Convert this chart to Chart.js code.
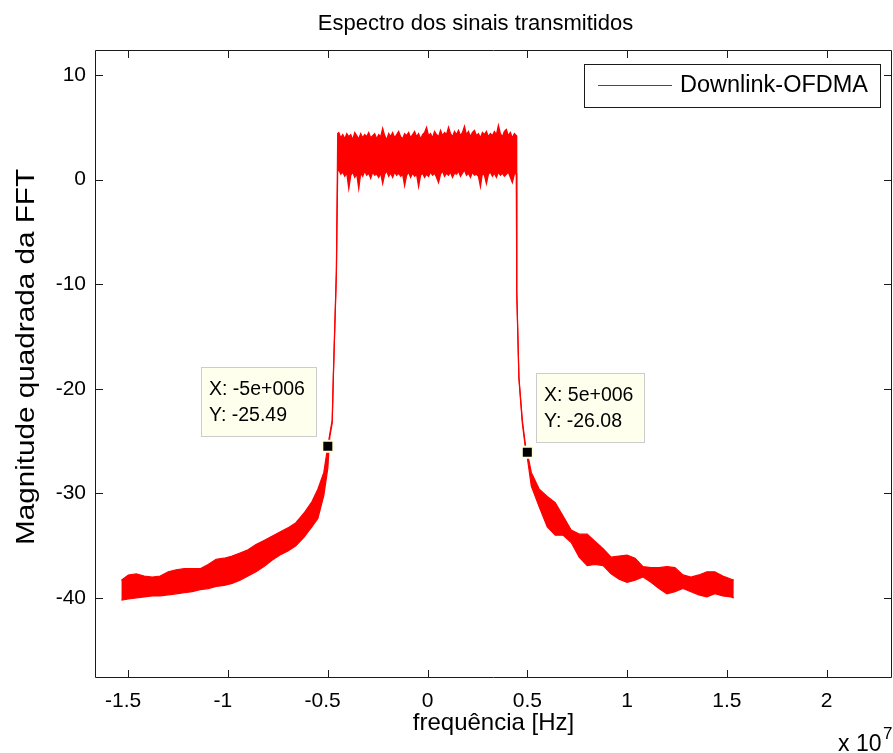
<!DOCTYPE html>
<html>
<head>
<meta charset="utf-8">
<title>Espectro dos sinais transmitidos</title>
<script src="https://cdn.jsdelivr.net/npm/chart.js@4.4.1/dist/chart.umd.min.js"></script>
<style>
  html, body { margin: 0; padding: 0; background: #ffffff; }
  canvas { display: block; }
</style>
</head>
<body>
<canvas id="spectrum" width="893" height="753"></canvas>
<script>
// Frequency grid (Hz) shared by the upper and lower edge of the spectrum trace
const freqHz = [
  -1.535e7, -1.50e7, -1.46e7, -1.42e7, -1.38e7, -1.34e7, -1.30e7, -1.26e7, -1.22e7, -1.18e7,
  -1.14e7, -1.10e7, -1.06e7, -1.02e7, -0.98e7, -0.94e7, -0.90e7, -0.86e7, -0.82e7, -0.78e7,
  -0.74e7, -0.70e7, -0.66e7, -0.62e7, -0.58e7, -0.55e7, -0.52e7, -0.50e7,
  -0.49e7, -0.478e7, -0.472e7, -0.457e7, -0.4505e7,
  -0.445e7, -0.435e7, -0.425e7, -0.415e7, -0.405e7, -0.395e7, -0.385e7, -0.375e7, -0.365e7, -0.355e7,
  -0.345e7, -0.335e7, -0.325e7, -0.315e7, -0.305e7, -0.295e7, -0.285e7, -0.275e7, -0.265e7, -0.255e7,
  -0.245e7, -0.235e7, -0.225e7, -0.215e7, -0.205e7, -0.195e7, -0.185e7, -0.175e7, -0.165e7, -0.155e7,
  -0.145e7, -0.135e7, -0.125e7, -0.115e7, -0.105e7, -0.095e7, -0.085e7, -0.075e7, -0.065e7, -0.055e7,
  -0.045e7, -0.035e7, -0.025e7, -0.015e7, -0.005e7,
  0.005e7, 0.015e7, 0.025e7, 0.035e7, 0.045e7, 0.055e7, 0.065e7, 0.075e7, 0.085e7, 0.095e7,
  0.105e7, 0.115e7, 0.125e7, 0.135e7, 0.145e7, 0.155e7, 0.165e7, 0.175e7, 0.185e7, 0.195e7,
  0.205e7, 0.215e7, 0.225e7, 0.235e7, 0.245e7, 0.255e7, 0.265e7, 0.275e7, 0.285e7, 0.295e7,
  0.305e7, 0.315e7, 0.325e7, 0.335e7, 0.345e7, 0.355e7, 0.365e7, 0.375e7, 0.385e7, 0.395e7,
  0.405e7, 0.415e7, 0.425e7, 0.435e7, 0.445e7,
  0.4465e7, 0.4475e7, 0.458e7, 0.475e7, 0.492e7,
  0.50e7, 0.52e7, 0.56e7, 0.60e7, 0.64e7, 0.68e7, 0.72e7, 0.76e7, 0.80e7, 0.84e7,
  0.88e7, 0.92e7, 0.96e7, 1.00e7, 1.04e7, 1.08e7, 1.12e7, 1.16e7, 1.20e7, 1.24e7,
  1.28e7, 1.32e7, 1.36e7, 1.40e7, 1.44e7, 1.48e7, 1.52e7, 1.535e7
];

// Upper edge of the |FFT|^2 trace (dB)
const upperDb = [
  -38.3, -37.8, -37.7, -37.9, -38.0, -37.9, -37.5, -37.3, -37.2, -37.2,
  -37.2, -36.8, -36.3, -36.2, -36.0, -35.7, -35.4, -34.9, -34.5, -34.1,
  -33.7, -33.3, -32.8, -31.9, -30.8, -29.6, -28.0, -25.49,
  -24.3, -23.0, -18.5, -8.7, 4.4,
  4.5, 4.0, 4.3, 3.9, 4.4, 4.1, 4.3, 3.8, 4.5, 4.2,
  3.9, 4.4, 4.0, 4.3, 4.1, 4.5, 4.0, 4.2, 4.4, 3.9,
  4.3, 4.1, 4.9, 4.2, 3.8, 4.4, 4.1, 4.5, 4.0, 4.3,
  4.6, 4.1, 3.9, 4.4, 4.2, 4.5, 4.0, 4.3, 4.6, 4.1,
  4.4, 3.9, 4.3, 4.5, 5.0,
  4.2, 4.4, 4.0, 4.6, 4.3, 4.1, 4.7, 4.2, 4.5, 4.3,
  5.0, 4.4, 4.1, 4.6, 4.3, 4.7, 4.2, 4.5, 5.1, 4.3,
  4.6, 4.1, 4.5, 4.7, 4.2, 4.4, 4.0, 4.5, 4.3, 4.6,
  4.1, 4.4, 4.2, 4.6, 4.3, 5.2, 4.4, 4.1, 4.6, 4.8,
  4.2, 4.5, 4.0, 4.4, 4.2,
  4.2, -10.6, -18.9, -23.0, -25.6,
  -26.08, -28.0, -29.6, -30.3, -30.9, -32.2, -33.5, -33.9, -33.9, -34.6,
  -35.3, -36.1, -36.0, -35.9, -36.2, -37.0, -37.1, -37.1, -37.0, -37.1,
  -37.8, -38.0, -37.8, -37.5, -37.5, -37.9, -38.2, -38.3
];

// Lower edge of the |FFT|^2 trace (dB)
const lowerDb = [
  -40.2, -40.1, -40.0, -39.9, -39.8, -39.8, -39.7, -39.6, -39.5, -39.4,
  -39.2, -39.1, -38.9, -38.8, -38.6, -38.3, -37.9, -37.5, -37.0, -36.4,
  -35.9, -35.5, -35.0, -34.2, -33.2, -32.4, -30.2, -27.6,
  -24.6, -23.3, -18.8, -9.0, 0.8,
  0.9, 0.5, 0.7, 0.3, 0.6, -0.9, 0.4, 0.7, 0.2, 0.5,
  -0.9, 0.6, 0.3, 0.8, 0.4, 0.6, 0.1, 0.7, 0.4, 0.5,
  0.2, 0.6, -0.4, 0.5, 0.8, 0.3, 0.6, 0.2, 0.7, 0.4,
  0.6, 0.3, 0.5, -0.6, 0.4, 0.7, 0.2, 0.6, 0.3, 0.5,
  -0.7, 0.4, 0.6, 0.2, 0.5,
  0.3, 0.7, 0.4, 0.6, 0.2, -0.3, 0.5, 0.8, 0.3, 0.6,
  0.4, 0.7, 0.2, 0.6, 0.5, 0.8, 0.3, 0.6, 0.9, 0.4,
  0.6, 0.2, 0.7, 0.4, 0.5, 0.3, -0.7, 0.6, 0.4, -0.4,
  0.5, 0.7, 0.3, 0.6, 0.2, 0.7, 0.4, 0.6, 0.3, 0.5,
  0.7, 0.2, -0.3, 0.5, 0.6,
  0.6, -10.8, -19.1, -23.3, -25.9,
  -26.6, -29.3, -31.3, -33.2, -34.0, -34.0, -34.7, -36.1, -36.9, -36.8,
  -36.9, -37.7, -38.2, -38.5, -38.3, -38.0, -38.5, -39.1, -39.6, -39.4,
  -39.1, -39.4, -39.7, -39.9, -39.6, -39.8, -39.9, -40.0
];

// Data cursors placed on the band edges
const cursorFreqHz = [-5e6, 5e6];
const cursorDb = [-25.49, -26.08];

// Axis ticks
const xTickValues = [-1.5e7, -1e7, -0.5e7, 0, 0.5e7, 1e7, 1.5e7, 2e7];
const yTickValues = [-40, -30, -20, -10, 0, 10];

const seriesName = 'Downlink-OFDMA';
const titleText = 'Espectro dos sinais transmitidos';
const xLabel = 'frequência [Hz]';
const yLabel = 'Magnitude quadrada da FFT';

const RED = '#ff0000';
const INK = '#000000';
const FAMILY = '"Liberation Sans", Arial, Helvetica, sans-serif';
const tickFont = { family: FAMILY, size: 21 };

const pts = (xs, ys) => xs.map((x, i) => ({ x: x, y: ys[i] }));

// MATLAB-style rendering of the cursor abscissa, e.g. -5e+006
function matlabExp(v) {
  const s = v.toExponential();
  return s.replace(/e([+-])(\d+)$/, (m, sign, d) => 'e' + sign + d.padStart(3, '0'));
}

// Negative x labels keep their digits centred on the tick, the sign hangs left
function xTickText(v) {
  const s = String(v / 1e7);
  return v < 0 ? s + '\u2002' : s;
}

// Title, y label, axes box with inward ticks on all four sides, axis multiplier
const boxAxes = {
  id: 'boxAxes',
  afterDraw(chart) {
    const { ctx, chartArea: a, scales } = chart;
    const L = 8;
    ctx.save();
    ctx.strokeStyle = '#1a1a1a';
    ctx.lineWidth = 1;
    ctx.beginPath();
    ctx.rect(Math.round(a.left) + 0.5, Math.round(a.top) + 0.5,
             Math.round(a.right - a.left) - 1, Math.round(a.bottom - a.top) - 1);
    ctx.stroke();
    ctx.beginPath();
    xTickValues.forEach(v => {
      const px = Math.round(scales.x.getPixelForValue(v)) + 0.5;
      ctx.moveTo(px, a.bottom); ctx.lineTo(px, a.bottom - L);
      ctx.moveTo(px, a.top); ctx.lineTo(px, a.top + L);
    });
    yTickValues.forEach(v => {
      const py = Math.round(scales.y.getPixelForValue(v)) + 0.5;
      ctx.moveTo(a.left, py); ctx.lineTo(a.left + L, py);
      ctx.moveTo(a.right, py); ctx.lineTo(a.right - L, py);
    });
    ctx.stroke();

    ctx.fillStyle = INK;
    ctx.textAlign = 'center';
    ctx.textBaseline = 'middle';
    ctx.font = '22px ' + FAMILY;
    ctx.fillText(titleText, 475.5, 24);

    ctx.save();
    ctx.translate(27, 357);
    ctx.rotate(-Math.PI / 2);
    ctx.scale(1.12, 1);
    ctx.font = '26.5px ' + FAMILY;
    ctx.fillText(yLabel, 0, 0);
    ctx.restore();

    ctx.textBaseline = 'alphabetic';
    ctx.textAlign = 'left';
    ctx.font = '23px ' + FAMILY;
    ctx.fillText('x 10', 838, 751);
    ctx.font = '17px ' + FAMILY;
    ctx.fillText('7', 883, 739);
    ctx.restore();
  }
};

// Data tip boxes next to the cursor markers
const dataTips = {
  id: 'dataTips',
  afterDraw(chart) {
    const { ctx, scales } = chart;
    ctx.save();
    ctx.font = '19.5px ' + FAMILY;
    ctx.textBaseline = 'middle';
    ctx.textAlign = 'left';
    cursorFreqHz.forEach((f, i) => {
      const px = scales.x.getPixelForValue(f);
      const py = scales.y.getPixelForValue(cursorDb[i]);
      const l1 = 'X: ' + matlabExp(f);
      const l2 = 'Y: ' + cursorDb[i].toPrecision(4);
      const w = Math.round(Math.max(ctx.measureText(l1).width, ctx.measureText(l2).width) + 20);
      const h = 70;
      const left = Math.round(f < 0 ? px - 10.5 - w : px + 8.5);
      const top = Math.round(py - 9 - h);
      ctx.fillStyle = '#ffffee';
      ctx.fillRect(left, top, w, h);
      ctx.strokeStyle = '#cccccc';
      ctx.lineWidth = 1;
      ctx.strokeRect(left + 0.5, top + 0.5, w - 1, h - 1);
      ctx.fillStyle = INK;
      ctx.fillText(l1, left + 8, top + 23);
      ctx.fillText(l2, left + 8, top + 49);
    });
    ctx.restore();
  }
};

// Legend box in the upper right corner of the axes
const legendBox = {
  id: 'legendBox',
  afterDraw(chart) {
    const { ctx } = chart;
    const ds = chart.data.datasets[0];
    const x0 = 584, y0 = 64, x1 = 881, y1 = 108;
    ctx.save();
    ctx.fillStyle = '#ffffff';
    ctx.fillRect(x0, y0, x1 - x0, y1 - y0);
    ctx.strokeStyle = '#1a1a1a';
    ctx.lineWidth = 1;
    ctx.strokeRect(x0 + 0.5, y0 + 0.5, x1 - x0 - 1, y1 - y0 - 1);
    ctx.strokeStyle = ds.borderColor;
    ctx.beginPath();
    ctx.moveTo(598, 85.5); ctx.lineTo(672, 85.5);
    ctx.stroke();
    ctx.fillStyle = INK;
    ctx.font = '23.5px ' + FAMILY;
    ctx.textBaseline = 'middle';
    ctx.textAlign = 'left';
    ctx.fillText(ds.label, 680, 86);
    ctx.restore();
  }
};

new Chart(document.getElementById('spectrum'), {
  type: 'line',
  data: {
    datasets: [
      {
        label: seriesName,
        data: pts(freqHz, upperDb),
        borderColor: RED,
        backgroundColor: RED,
        borderWidth: 1.2,
        pointRadius: 0,
        tension: 0,
        fill: '+1',
        order: 2
      },
      {
        label: seriesName + ' (lower edge)',
        data: pts(freqHz, lowerDb),
        borderColor: RED,
        backgroundColor: RED,
        borderWidth: 1.2,
        pointRadius: 0,
        tension: 0,
        fill: false,
        order: 2
      },
      {
        label: 'Data cursor',
        type: 'scatter',
        data: pts(cursorFreqHz, cursorDb),
        pointStyle: 'rect',
        pointRadius: 7.8,
        pointBackgroundColor: '#000000',
        pointBorderColor: '#ffffe0',
        pointBorderWidth: 2,
        showLine: false,
        order: 1
      }
    ]
  },
  options: {
    responsive: false,
    animation: false,
    devicePixelRatio: 1,
    layout: { autoPadding: false, padding: { left: 0, right: 1, top: 50, bottom: 0 } },
    plugins: {
      legend: { display: false },
      tooltip: { enabled: false },
      title: { display: false }
    },
    scales: {
      x: {
        type: 'linear',
        min: -1.667e7,
        max: 2.328e7,
        grid: { display: false, drawTicks: false },
        border: { display: false },
        afterBuildTicks: s => { s.ticks = xTickValues.map(v => ({ value: v })); },
        afterFit: s => { s.height = 75; },
        ticks: {
          callback: v => xTickText(v),
          color: INK,
          font: tickFont,
          padding: 11,
          maxRotation: 0,
          autoSkip: false
        },
        title: {
          display: true,
          text: xLabel,
          color: INK,
          font: { family: FAMILY, size: 24 },
          padding: { top: 0, bottom: 15.6 }
        }
      },
      y: {
        type: 'linear',
        min: -47.65,
        max: 12.38,
        grid: { display: false, drawTicks: false },
        border: { display: false },
        afterBuildTicks: s => { s.ticks = yTickValues.map(v => ({ value: v })); },
        afterFit: s => { s.width = 95; },
        ticks: {
          callback: v => String(v),
          color: INK,
          font: tickFont,
          padding: 9,
          autoSkip: false
        },
        title: { display: false }
      }
    }
  },
  plugins: [boxAxes, dataTips, legendBox]
});
</script>
</body>
</html>
